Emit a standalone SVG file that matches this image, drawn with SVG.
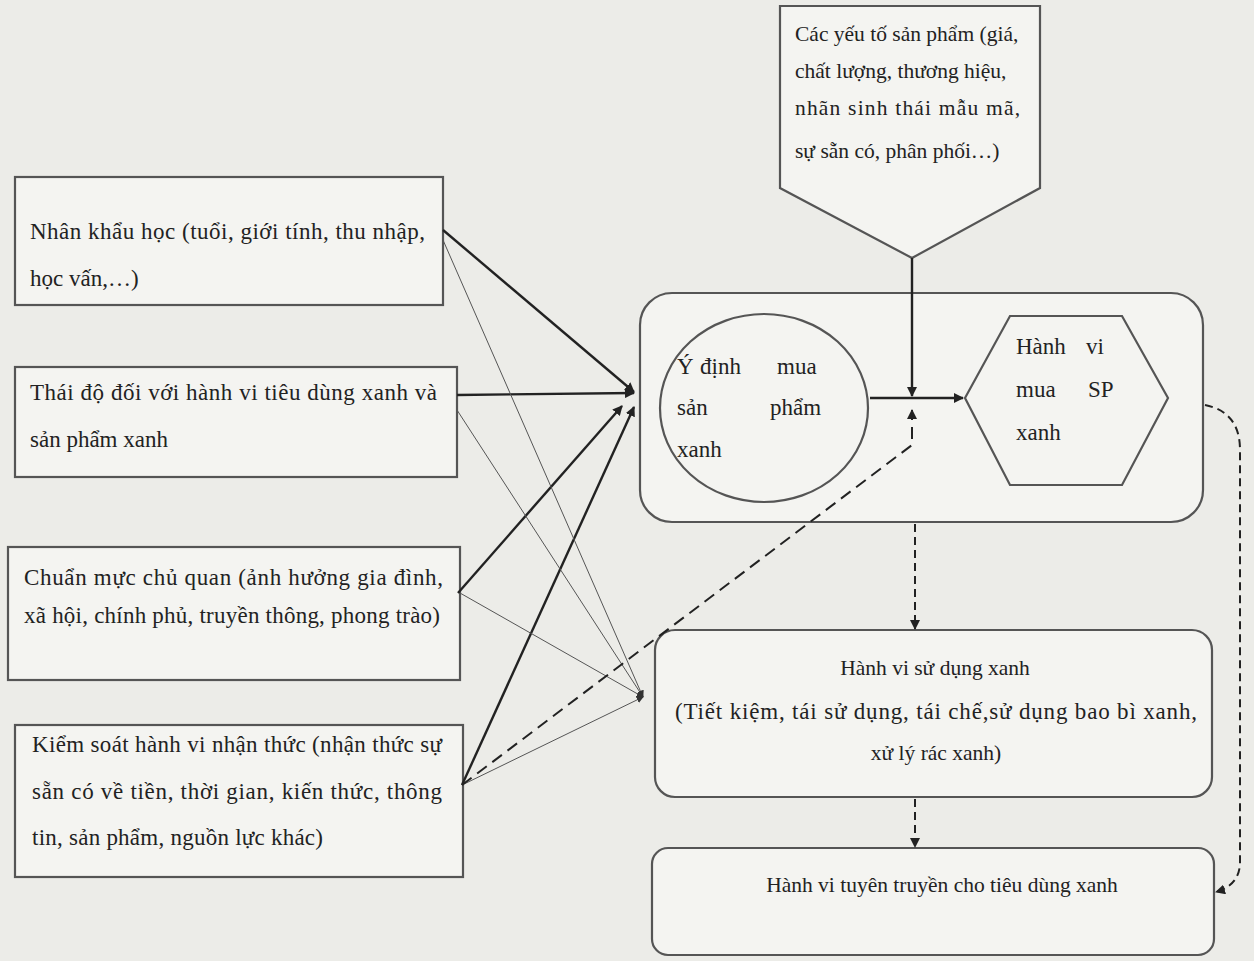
<svg xmlns="http://www.w3.org/2000/svg" width="1254" height="961" viewBox="0 0 1254 961">
<style>
.bg{fill:#ecece8}
.box{fill:#f4f4f1;stroke:#555;stroke-width:2.2}
.t{font-family:"Liberation Serif","Times New Roman",serif;font-size:23px;fill:#222}
.s{font-size:21.5px}
.thick{stroke:#222;stroke-width:2.4;fill:none}
.thin{stroke:#555;stroke-width:1;fill:none}
.dash{stroke:#222;stroke-width:2;fill:none;stroke-dasharray:12 7}
.dot{stroke:#222;stroke-width:2;fill:none;stroke-dasharray:8 5}
</style>
<defs>
<marker id="ah" viewBox="0 0 10 10" refX="9" refY="5" markerWidth="7" markerHeight="7" markerUnits="userSpaceOnUse" orient="auto"><path d="M0,0 L10,5 L0,10 z" fill="#333"/></marker>
<marker id="ahs" viewBox="0 0 10 10" refX="9" refY="5" markerWidth="10" markerHeight="10" markerUnits="userSpaceOnUse" orient="auto"><path d="M0,0 L10,5 L0,10 z" fill="#222"/></marker>
</defs>
<rect class="bg" x="0" y="0" width="1254" height="961"/>

<g id="n1"><rect class="box" x="15" y="177" width="428" height="128"/>
<text class="t" x="30" y="239" textLength="395" lengthAdjust="spacing">Nhân khẩu học (tuổi, giới tính, thu nhập,</text>
<text class="t" x="30" y="286">học vấn,…)</text></g>

<g id="n2"><rect class="box" x="15" y="367" width="442" height="110"/>
<text class="t" x="30" y="400" textLength="407" lengthAdjust="spacing">Thái độ đối với hành vi tiêu dùng xanh và</text>
<text class="t" x="30" y="447">sản phẩm xanh</text></g>

<g id="n3"><rect class="box" x="8" y="547" width="452" height="133"/>
<text class="t" x="24" y="585" textLength="419" lengthAdjust="spacing">Chuẩn mực chủ quan (ảnh hưởng gia đình,</text>
<text class="t" x="24" y="623" textLength="416" lengthAdjust="spacing">xã hội, chính phủ, truyền thông, phong trào)</text></g>

<g id="n4"><rect class="box" x="15" y="725" width="448" height="152"/>
<text class="t" x="32" y="752" textLength="410" lengthAdjust="spacing">Kiểm soát hành vi nhận thức (nhận thức sự</text>
<text class="t" x="32" y="799" textLength="410" lengthAdjust="spacing">sẵn có về tiền, thời gian, kiến thức,  thông</text>
<text class="t" x="32" y="845" textLength="291" lengthAdjust="spacing">tin, sản phẩm, nguồn lực khác)</text></g>

<g id="n5"><path class="box" d="M780,6 L1040,6 L1040,188 L912,258 L780,188 Z"/>
<text class="t s" x="795" y="41">Các yếu tố sản phẩm (giá,</text>
<text class="t s" x="795" y="78">chất lượng, thương hiệu,</text>
<text class="t s" x="795" y="115" textLength="225" lengthAdjust="spacing">nhãn sinh thái mẫu mã,</text>
<text class="t s" x="795" y="158">sự sẵn có, phân phối…)</text></g>

<g id="n6"><rect class="box" x="640" y="293" width="563" height="229" rx="32"/></g>

<g id="n7"><ellipse class="box" cx="764" cy="408" rx="104" ry="94"/>
<text class="t" x="677" y="374">Ý</text><text class="t" x="700" y="374">định</text><text class="t" x="777" y="374">mua</text>
<text class="t" x="677" y="415">sản</text><text class="t" x="770" y="415">phẩm</text>
<text class="t" x="677" y="457">xanh</text></g>

<g id="n8"><path class="box" d="M965,398 L1010,316 L1122,316 L1168,398 L1122,485 L1010,485 Z"/>
<text class="t" x="1016" y="354">Hành</text><text class="t" x="1086" y="354">vi</text>
<text class="t" x="1016" y="397">mua</text><text class="t" x="1088" y="397">SP</text>
<text class="t" x="1016" y="440">xanh</text></g>

<g id="n9"><rect class="box" x="655" y="630" width="557" height="167" rx="20"/>
<text class="t s" x="935" y="675" text-anchor="middle">Hành vi sử dụng xanh</text>
<text class="t" x="936" y="719" text-anchor="middle" textLength="522" lengthAdjust="spacing">(Tiết kiệm, tái sử dụng, tái chế,sử dụng bao bì xanh,</text>
<text class="t s" x="936" y="760" text-anchor="middle">xử lý rác xanh)</text></g>

<g id="n10"><rect class="box" x="652" y="848" width="562" height="107" rx="16"/>
<text class="t s" x="942" y="892" text-anchor="middle">Hành vi tuyên truyền cho tiêu dùng xanh</text></g>

<g id="connectors">
<line class="thick" x1="443" y1="230" x2="634" y2="392" marker-end="url(#ahs)"/>
<line class="thick" x1="457" y1="395" x2="634" y2="393" marker-end="url(#ahs)"/>
<line class="thick" x1="458" y1="593" x2="622" y2="406" marker-end="url(#ahs)"/>
<line class="thick" x1="462" y1="785" x2="634" y2="407" marker-end="url(#ahs)"/>
<line class="thin" x1="443" y1="240" x2="643" y2="697" marker-end="url(#ah)"/>
<line class="thin" x1="457" y1="410" x2="643" y2="697" marker-end="url(#ah)"/>
<line class="thin" x1="460" y1="593" x2="643" y2="697" marker-end="url(#ah)"/>
<line class="thin" x1="462" y1="785" x2="643" y2="697" marker-end="url(#ah)"/>
<polyline class="dash" points="462,785 912,445 912,410" marker-end="url(#ahs)"/>
<line class="thick" x1="870" y1="398" x2="963" y2="398" marker-end="url(#ahs)"/>
<line class="thick" x1="912" y1="258" x2="912" y2="396" stroke-width="1.8" marker-end="url(#ahs)"/>
<line class="dot" x1="915" y1="524" x2="915" y2="629" marker-end="url(#ahs)"/>
<line class="dot" x1="915" y1="799" x2="915" y2="847" marker-end="url(#ahs)"/>
<path class="dot" d="M1205,405 Q1240,412 1240,450 L1240,862 Q1240,885 1216,892" marker-end="url(#ahs)"/>
</g>
</svg>
